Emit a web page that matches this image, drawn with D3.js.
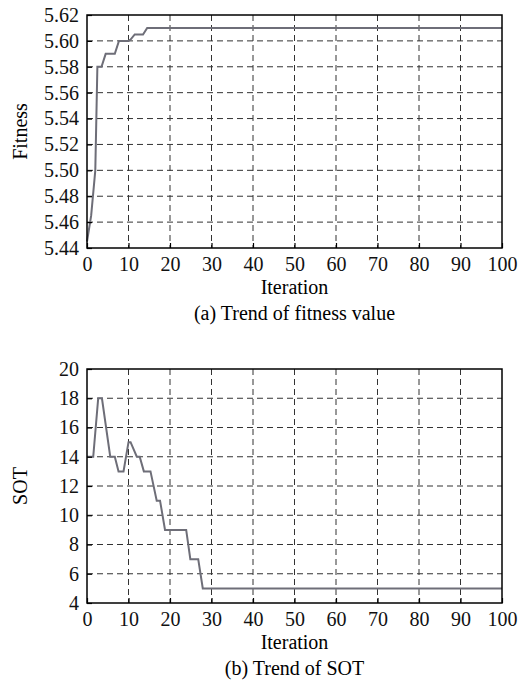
<!DOCTYPE html>
<html>
<head>
<meta charset="utf-8">
<script src="https://cdn.jsdelivr.net/npm/d3@7"></script>
<style>
  body { margin: 0; background: #fff; }
</style>
</head>
<body>
<div id="chart"></div>
<script>
// iteration values for each series
var fitIter = [0, 1, 2, 2.5, 3, 3.5, 4.5, 6.7, 7.7, 10, 10.5, 11.5, 13.5, 14.5, 100];
var fitVal  = [5.445, 5.465, 5.50, 5.58, 5.58, 5.58, 5.59, 5.59, 5.60, 5.60, 5.601, 5.605, 5.605, 5.61, 5.61];

var sotIter = [0, 1.5, 2.7, 3.6, 5.6, 6.7, 7.6, 8.8, 10, 10.5, 12, 12.7, 13.7, 15.3, 16.8, 17.6, 18.8, 23.9, 24.9, 26.8, 27.9, 100];
var sotVal  = [14, 14, 18, 18, 14, 14, 13, 13, 15, 15, 14, 14, 13, 13, 11, 11, 9, 9, 7, 7, 5, 5];

var xTicks = [0, 10, 20, 30, 40, 50, 60, 70, 80, 90, 100];
var fitTicks = [5.44, 5.46, 5.48, 5.50, 5.52, 5.54, 5.56, 5.58, 5.60, 5.62];
var sotTicks = [4, 6, 8, 10, 12, 14, 16, 18, 20];

var width = 528, height = 686;
var left = 87, right = 502;
var serif = "'Liberation Serif', 'Times New Roman', serif";
var fs = 20;

var svg = d3.select("#chart").append("svg")
    .attr("width", width)
    .attr("height", height);

var x = d3.scaleLinear().domain([0, 100]).range([left, right]);

function panel(top, bottom, yDomain, yTicks, fmt, xs, ys, yLabel, caption) {
    var y = d3.scaleLinear().domain(yDomain).range([bottom, top]);
    var g = svg.append("g");

    // dashed grid
    g.selectAll(".vg").data(xTicks.slice(1, -1)).enter().append("line")
        .attr("x1", d => x(d)).attr("x2", d => x(d))
        .attr("y1", top).attr("y2", bottom)
        .attr("stroke", "#333").attr("stroke-width", 1).attr("stroke-dasharray", "6,4");
    g.selectAll(".hg").data(yTicks.slice(1, -1)).enter().append("line")
        .attr("x1", left).attr("x2", right)
        .attr("y1", d => y(d)).attr("y2", d => y(d))
        .attr("stroke", "#333").attr("stroke-width", 1).attr("stroke-dasharray", "6,4");

    // series line
    var pts = xs.map((d, i) => [d, ys[i]]);
    g.append("path")
        .datum(pts)
        .attr("fill", "none")
        .attr("stroke", "#6e6e78")
        .attr("stroke-width", 2)
        .attr("d", d3.line().x(d => x(d[0])).y(d => y(d[1])));

    // frame
    g.append("rect")
        .attr("x", left).attr("y", top)
        .attr("width", right - left).attr("height", bottom - top)
        .attr("fill", "none").attr("stroke", "#000").attr("stroke-width", 1.5);

    // axes, ticks inward
    var ax = g.append("g").attr("transform", "translate(0," + bottom + ")")
        .call(d3.axisBottom(x).tickValues(xTicks).tickSizeInner(-5).tickSizeOuter(0).tickPadding(9));
    var ay = g.append("g").attr("transform", "translate(" + left + ",0)")
        .call(d3.axisLeft(y).tickValues(yTicks).tickFormat(fmt).tickSizeInner(-5).tickSizeOuter(0).tickPadding(8));
    [ax, ay].forEach(function (a) {
        a.attr("font-family", serif).attr("font-size", fs);
        a.select(".domain").remove();
        a.selectAll("line").attr("stroke", "#000").attr("stroke-width", 1.2);
        a.selectAll("text").attr("fill", "#111");
    });

    g.append("text")
        .attr("transform", "translate(27," + ((top + bottom) / 2) + ") rotate(-90)")
        .attr("text-anchor", "middle")
        .attr("font-family", serif).attr("font-size", fs)
        .text(yLabel);

    g.append("text")
        .attr("x", (left + right) / 2).attr("y", bottom + 46)
        .attr("text-anchor", "middle")
        .attr("font-family", serif).attr("font-size", fs)
        .text("Iteration");

    g.append("text")
        .attr("x", (left + right) / 2).attr("y", bottom + 72)
        .attr("text-anchor", "middle")
        .attr("font-family", serif).attr("font-size", fs)
        .text(caption);
}

panel(15, 248, [5.44, 5.62], fitTicks, d3.format(".2f"), fitIter, fitVal, "Fitness", "(a) Trend of fitness value");
panel(369, 603, [4, 20], sotTicks, d3.format("d"), sotIter, sotVal, "SOT", "(b) Trend of SOT");
</script>
</body>
</html>
